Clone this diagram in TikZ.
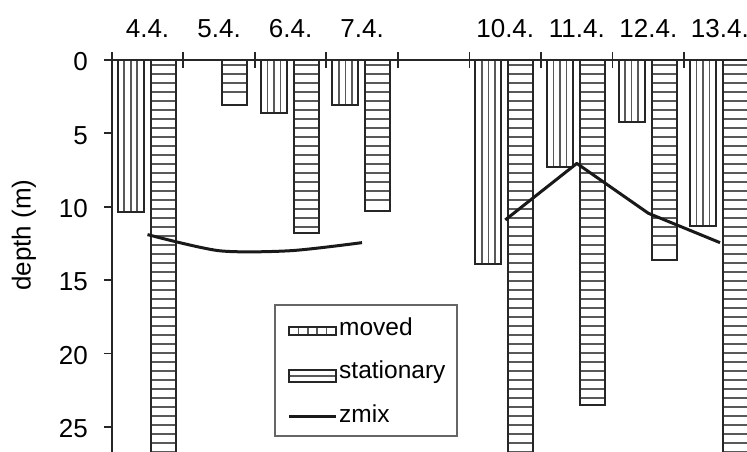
\documentclass[tikz,border=0pt]{standalone}
\usepackage{fontspec}
\setmainfont{Liberation Sans}
\begin{document}
\begin{tikzpicture}[x=1pt,y=-1pt,
  axisline/.style={line width=2.2pt,black!85},
  tickline/.style={line width=1.8pt,black!85},
  barframe/.style={line width=2pt,black!85},
  stripe/.style={line width=1.6pt,black!65},
  zline/.style={line width=3pt,black!90,line join=round},
  lbl/.style={inner sep=0pt,font=\fontsize{26}{26}\selectfont},
  leg/.style={inner sep=0pt,anchor=base west,font=\fontsize{24.5}{24.5}\selectfont}]
\clip (0,0) rectangle (747,452);
% moved bar: left x, depth
\def\movedbar#1#2{%
  \pgfmathsetmacro\yb{60+14.67*#2}%
  \foreach \dx in {6.5,13,19.5}{\draw[stripe] ({#1+\dx},60) -- ({#1+\dx},\yb);}
  \draw[barframe] (#1,60) rectangle ({#1+26},\yb);}
\def\statbar#1#2{%
  \pgfmathsetmacro\yb{60+14.67*#2}%
  \pgfmathtruncatemacro\nn{(\yb-62)/9}%
  \foreach \k in {1,...,\nn}{\draw[stripe] (#1,{56+9*\k}) -- ({#1+25},{56+9*\k});}
  \draw[barframe] (#1,60) rectangle ({#1+25},\yb);}
% bars
\foreach \i/\m/\s in {0/10.34/30,1/0/3.1,2/3.6/11.8,3/3.1/10.3,5/13.9/30,6/7.3/23.5,7/4.2/13.6,8/11.3/30}{
  \pgfmathsetmacro\xs{111.7+71.55*\i}
  \ifdim\m pt>0pt \movedbar{\xs+6}{\m}\fi
  \statbar{\xs+39}{\s}
}
% axes
\draw[axisline] (104,60) -- (747,60);
\draw[axisline] (111.7,60) -- (111.7,460);
\foreach \i in {0,...,9}{\draw[tickline] ({111.7+71.55*\i},52) -- ({111.7+71.55*\i},68);}
\foreach \d in {0,5,...,25}{
  \draw[tickline] (104,{60+14.67*\d}) -- (111.7,{60+14.67*\d});
  \node[lbl,anchor=east] (yl\d) at (88,{62+14.67*\d}) {\d};
}
\node[lbl,rotate=90] (ylab) at (24,235) {depth (m)};
% top labels
\foreach \i/\t in {0/4.4.,1/5.4.,2/6.4.,3/7.4.,5/10.4.,6/11.4.,7/12.4.,8/13.4.}{
  \node[lbl,anchor=base] (tl\i) at ({111.7+71.55*\i+35.8},37.5) {\t};
}
% zmix
\draw[zline] plot[smooth,tension=0.45] coordinates {(147.5,{60+14.67*11.9}) (219,{60+14.67*13.0}) (290.5,{60+14.67*13.0}) (362,{60+14.67*12.45})};
\draw[zline] (505.3,{60+14.67*10.9}) -- (576.8,{60+14.67*7.05}) -- (648.4,{60+14.67*10.45}) -- (720,{60+14.67*12.45});
% legend
\draw[line width=1.6pt,black!60] (275,305) rectangle (457,436);
\foreach \xx in {298.4,307.8,317.2,326.6}{\draw[stripe] (\xx,327) -- (\xx,335);}
\draw[barframe] (289,327) rectangle (336,335);
\draw[stripe] (289,376) -- (336,376);
\draw[barframe] (289,370) rectangle (336,382);
\draw[zline] (289,416) -- (336,416);
\node[leg] (lmoved) at (339,335) {moved};
\node[leg] (lstat) at (339,378.5) {stationary};
\node[leg] (lzmix) at (339,422) {zmix};
\end{tikzpicture}
\end{document}
